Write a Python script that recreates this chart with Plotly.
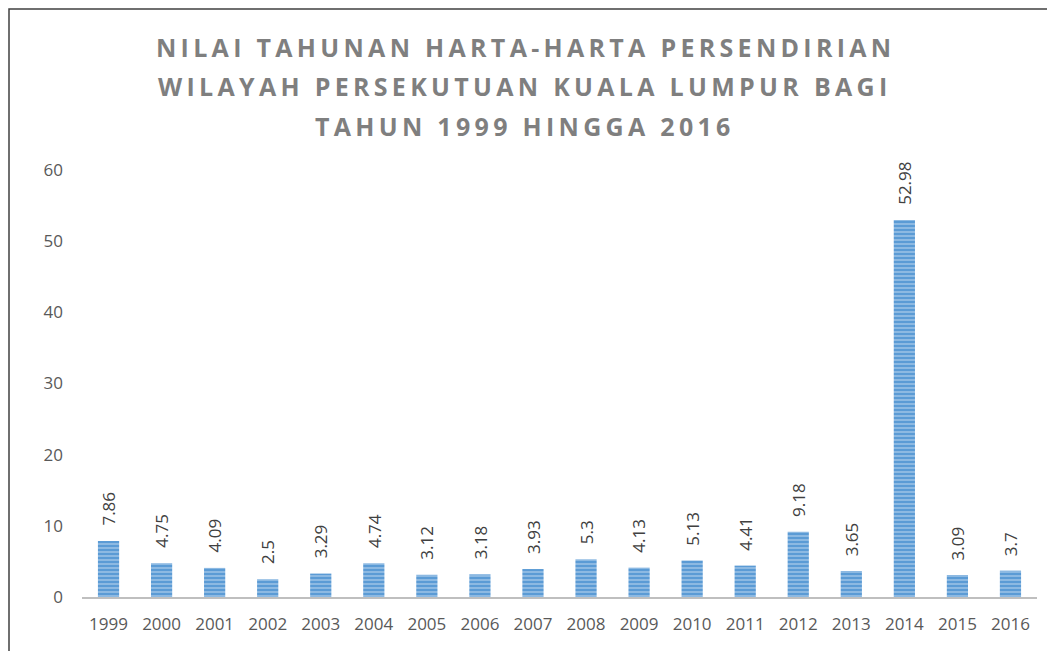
import plotly.graph_objects as go

# Data
years = ["1999", "2000", "2001", "2002", "2003", "2004", "2005", "2006", "2007",
         "2008", "2009", "2010", "2011", "2012", "2013", "2014", "2015", "2016"]
values = [7.86, 4.75, 4.09, 2.5, 3.29, 4.74, 3.12, 3.18, 3.93,
          5.3, 4.13, 5.13, 4.41, 9.18, 3.65, 52.98, 3.09, 3.7]
y_ticks = [0, 10, 20, 30, 40, 50, 60]

title_lines = [
    "NILAI TAHUNAN HARTA-HARTA PERSENDIRIAN",
    "WILAYAH PERSEKUTUAN KUALA LUMPUR BAGI",
    "TAHUN 1999 HINGGA 2016",
]

font_family = "Open Sans, Liberation Sans, sans-serif"

# page body has an 8px margin, so the figure is sized to start there
W, H = 1046, 643
L, R, T, B = 74, 17, 162, 54
plot_w = W - L - R
plot_h = H - T - B

fig = go.Figure()
fig.add_trace(go.Bar(
    x=years,
    y=values,
    marker=dict(
        color="#5B9BD5",
        line=dict(width=0),
        pattern=dict(shape="-", bgcolor="#5B9BD5", fgcolor="#FFFFFF",
                     size=4, solidity=0.3, fillmode="overlay"),
    ),
    hoverinfo="x+y",
))

# rotated value labels above each bar (category axis -> use serial index)
for i, v in enumerate(values):
    fig.add_annotation(
        x=i, y=v, text=f"{v:g}", textangle=-90,
        showarrow=False, xanchor="center", yanchor="bottom", yshift=13,
        font=dict(family=font_family, size=17, color="#404040"),
    )

# title, one annotation per line so the spacing can follow the original
title_y = [1.288, 1.197, 1.103]
for line, ty in zip(title_lines, title_y):
    fig.add_annotation(
        x=0.464, xref="paper", y=ty, yref="paper",
        text=f'<span style="letter-spacing:4.3px">{line}</span>',
        showarrow=False, xanchor="center", yanchor="middle",
        font=dict(family=font_family, size=25, color="#7F7F7F", weight="bold"),
    )

fig.update_layout(
    width=W,
    height=H,
    margin=dict(l=L, r=R, t=T, b=B),
    paper_bgcolor="white",
    plot_bgcolor="white",
    bargap=0.6,
    showlegend=False,
    xaxis=dict(
        type="category",
        showgrid=False,
        showline=True,
        linecolor="#BFBFBF",
        linewidth=2,
        ticks="",
        tickfont=dict(family=font_family, size=17, color="#595959"),
        ticklabelstandoff=11,
    ),
    yaxis=dict(
        range=[0, 60],
        tickvals=y_ticks,
        showgrid=False,
        zeroline=False,
        showline=False,
        ticks="",
        tickfont=dict(family=font_family, size=17, color="#595959"),
        ticklabelstandoff=18,
    ),
)

# chart frame border along the figure edges
fig.add_shape(
    type="rect", xref="paper", yref="paper",
    x0=(-L + 1) / plot_w, x1=(plot_w + R - 1) / plot_w,
    y0=-(B + 20) / plot_h, y1=(plot_h + T - 1) / plot_h,
    line=dict(color="#404040", width=1.5),
    fillcolor="rgba(0,0,0,0)",
    layer="below",
)

fig.write_html("out.html")
